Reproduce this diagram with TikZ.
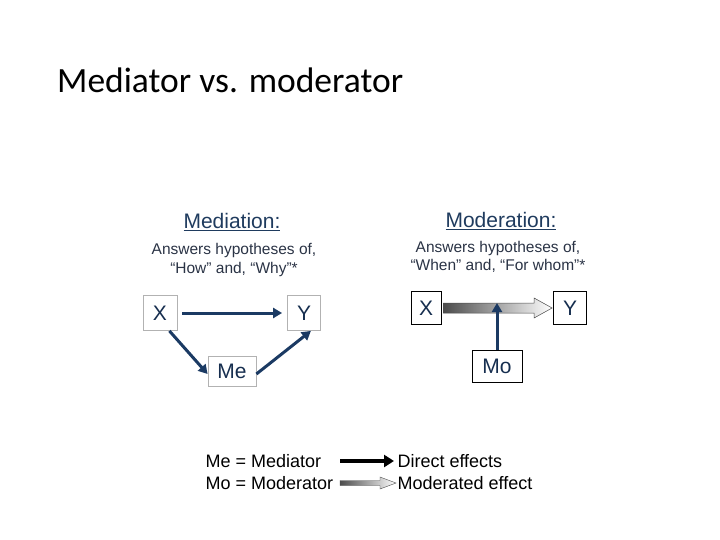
\documentclass[tikz,border=0pt]{standalone}
\usepackage{fontspec}
\setmainfont{Liberation Sans}
\newfontfamily\titlefont{Carlito}
\usetikzlibrary{arrows.meta}
\definecolor{navy}{HTML}{1B3A63}
\definecolor{hd}{HTML}{1F3B5E}
\definecolor{sub}{HTML}{2A3345}
\tikzset{
 gbox/.style={draw=gray!60,line width=0.8pt,minimum width=#1,inner sep=0,font=\fontsize{21}{21}\selectfont,text=navy!80!black},
 bbox/.style={draw=black,line width=0.8pt,minimum width=#1,inner sep=0,font=\fontsize{21}{21}\selectfont,text=navy!80!black},
 darr/.style={navy,line width=3pt,-{Triangle[length=9pt,width=10pt]}},
 hdr/.style={font=\fontsize{21}{21}\selectfont,text=hd},
 subt/.style={font=\fontsize{15.5}{18.5}\selectfont,text=sub,align=center},
 leg/.style={font=\fontsize{18}{21}\selectfont,anchor=west}
}
\begin{document}
\begin{tikzpicture}[x=1pt,y=-1pt]
\useasboundingbox (0,0) rectangle (720,540);
\node[anchor=west,font=\titlefont\fontsize{35.5}{35.5}\selectfont,inner sep=0] (title) at (57,80) {Mediator vs. moderator};
% Mediation
\node[hdr] (mh) at (232,222) {\underline{Mediation:}};
\node[subt] (ms) at (234,260) {Answers hypotheses of,\\ ``How'' and, ``Why''*};
\node[gbox=34pt,minimum height=35pt] (x1) at (160,313) {X};
\node[gbox=33pt,minimum height=35pt] (y1) at (304,313) {Y};
\node[gbox=48pt,minimum height=30pt] (me) at (232,371) {Me};
\draw[darr] (x1.east)+(5,0) -- ([xshift=-5pt]y1.west);
\draw[darr] ([xshift=-8pt]x1.south east) -- ([yshift=-3pt]me.west);
\draw[darr] ([yshift=-3pt]me.east) -- ([xshift=-10pt]y1.south east);
% Moderation
\node[hdr] (dh) at (501,221) {\underline{Moderation:}};
\node[subt] (ds) at (498,257) {Answers hypotheses of,\\ ``When'' and, ``For whom''*};
\node[bbox=30pt,minimum height=33pt] (x2) at (426,308) {X};
\node[bbox=33pt,minimum height=33pt] (y2) at (570,308) {Y};
\node[bbox=50pt,minimum height=32pt] (mo) at (497,366) {Mo};
\coordinate (a0) at ([xshift=2pt]x2.east);
\coordinate (a1) at ([xshift=-1pt]y2.west);
\draw[black!70,left color=black!70,right color=white,line width=0.5pt]
 ([yshift=-5pt]a0) -- ([xshift=-18pt,yshift=-5pt]a1) -- ([xshift=-18pt,yshift=-10pt]a1) -- (a1)
 -- ([xshift=-18pt,yshift=10pt]a1) -- ([xshift=-18pt,yshift=5pt]a1) -- ([yshift=5pt]a0) -- cycle;
\draw[darr] (mo.north) -- ([yshift=5pt]mo.north |- a0);
% Legend
\node[leg] (l1) at (202,461) {Me = Mediator};
\node[leg] (l2) at (202,483) {Mo = Moderator};
\node[leg] (l3) at (394,461) {Direct effects};
\node[leg] (l4) at (394,483) {Moderated effect};
\draw[black,line width=4pt,-{Triangle[length=10pt,width=12pt]}] (340,461) -- (l3.west);
\coordinate (b0) at (340,483);
\coordinate (b1) at ([xshift=2pt]l4.west);
\draw[black!70,left color=black!70,right color=white,line width=0.4pt]
 ([yshift=-2.5pt]b0) -- ([xshift=-16pt,yshift=-2.5pt]b1) -- ([xshift=-16pt,yshift=-6pt]b1) -- (b1)
 -- ([xshift=-16pt,yshift=6pt]b1) -- ([xshift=-16pt,yshift=2.5pt]b1) -- ([yshift=2.5pt]b0) -- cycle;
\end{tikzpicture}
\end{document}
